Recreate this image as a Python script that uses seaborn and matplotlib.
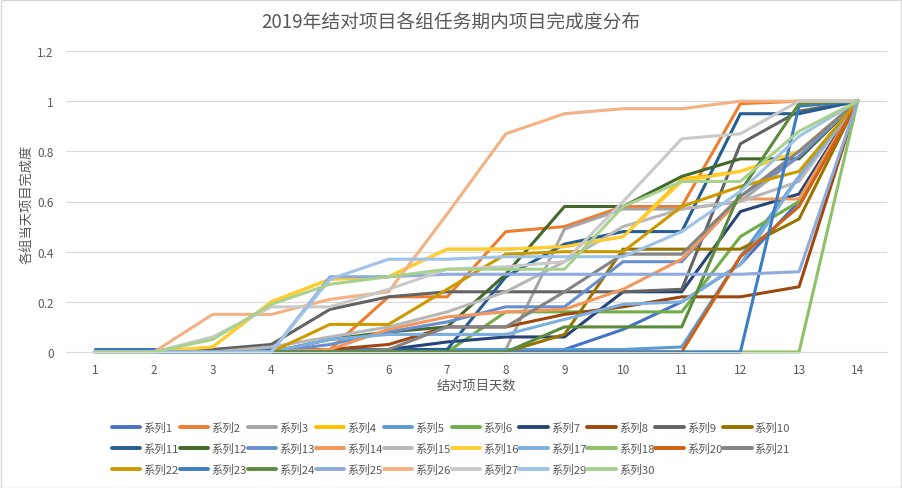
import numpy as np
import pandas as pd
import matplotlib
matplotlib.use("Agg")
import matplotlib.pyplot as plt
import seaborn as sns
from matplotlib.lines import Line2D
from matplotlib.patches import Rectangle

days = list(range(1, 15))

s1 = [0.01, 0.01, 0.01, 0.01, 0.01, 0.01, 0.01, 0.01, 0.01, 0.09, 0.20, 0.35, 0.60, 1]
s2 = [0, 0, 0, 0, 0.01, 0.22, 0.22, 0.48, 0.50, 0.58, 0.58, 0.99, 1, 1]
s3 = [0, 0, 0, 0, 0, 0, 0, 0.01, 0.49, 0.57, 0.57, 0.60, 0.78, 1]
s4 = [0, 0, 0.02, 0.20, 0.29, 0.30, 0.41, 0.41, 0.42, 0.46, 0.69, 0.72, 0.80, 1]
s5 = [0, 0, 0, 0, 0, 0.01, 0.01, 0.01, 0.01, 0.01, 0.02, 0.38, 0.70, 1]
s6 = [0, 0, 0, 0, 0, 0, 0, 0.16, 0.16, 0.16, 0.16, 0.46, 0.60, 1]
s7 = [0, 0, 0, 0, 0, 0.01, 0.04, 0.06, 0.06, 0.24, 0.24, 0.56, 0.63, 1]
s8 = [0, 0, 0, 0, 0.01, 0.03, 0.10, 0.10, 0.15, 0.18, 0.22, 0.22, 0.26, 1]
s9 = [0, 0, 0.01, 0.03, 0.17, 0.22, 0.24, 0.24, 0.24, 0.24, 0.25, 0.83, 0.96, 1]
s10 = [0, 0, 0, 0, 0, 0, 0, 0, 0.07, 0.41, 0.41, 0.41, 0.53, 1]
s11 = [0, 0, 0, 0, 0, 0.01, 0.01, 0.30, 0.43, 0.48, 0.48, 0.95, 0.95, 1]
s12 = [0, 0, 0, 0, 0.05, 0.08, 0.10, 0.31, 0.58, 0.58, 0.70, 0.77, 0.77, 1]
s13 = [0, 0, 0, 0, 0.03, 0.08, 0.12, 0.18, 0.18, 0.36, 0.36, 0.62, 0.78, 1]
s14 = [0, 0, 0, 0, 0.01, 0.09, 0.14, 0.16, 0.17, 0.25, 0.37, 0.61, 0.61, 1]
s15 = [0, 0, 0, 0.02, 0.06, 0.10, 0.16, 0.24, 0.36, 0.50, 0.57, 0.60, 0.68, 1]
s16 = [0, 0, 0.02, 0.20, 0.29, 0.30, 0.41, 0.41, 0.42, 0.46, 0.68, 0.72, 0.80, 1]
s17 = [0, 0, 0, 0, 0.05, 0.07, 0.07, 0.07, 0.13, 0.19, 0.20, 0.35, 0.70, 1]
s18 = [0, 0, 0, 0, 0, 0, 0, 0, 0, 0, 0, 0, 0, 1]
s20 = [0, 0, 0, 0, 0, 0, 0, 0, 0, 0, 0, 0.38, 0.58, 1]
s21 = [0, 0, 0, 0, 0, 0.01, 0.10, 0.10, 0.24, 0.39, 0.39, 0.62, 0.80, 1]
s22 = [0, 0, 0, 0, 0.11, 0.11, 0.25, 0.39, 0.40, 0.40, 0.58, 0.66, 0.72, 1]
s23 = [0, 0, 0, 0, 0, 0, 0, 0, 0, 0, 0, 0, 0.98, 1]
s24 = [0, 0, 0, 0, 0, 0, 0, 0, 0.10, 0.10, 0.10, 0.64, 0.99, 1]
s25 = [0, 0, 0, 0, 0.30, 0.30, 0.31, 0.31, 0.31, 0.31, 0.31, 0.31, 0.32, 1]
s26 = [0, 0, 0.15, 0.15, 0.21, 0.24, 0.55, 0.87, 0.95, 0.97, 0.97, 1, 1, 1]
s27 = [0, 0, 0.06, 0.18, 0.18, 0.25, 0.33, 0.34, 0.36, 0.60, 0.85, 0.87, 1, 1]
s29 = [0, 0, 0, 0, 0.29, 0.37, 0.37, 0.38, 0.38, 0.38, 0.48, 0.64, 0.86, 1]
s30 = [0, 0, 0.05, 0.19, 0.27, 0.30, 0.33, 0.33, 0.33, 0.58, 0.68, 0.68, 0.88, 1]

names = ["系列1", "系列2", "系列3", "系列4", "系列5", "系列6", "系列7", "系列8", "系列9", "系列10",
         "系列11", "系列12", "系列13", "系列14", "系列15", "系列16", "系列17", "系列18", "系列20", "系列21",
         "系列22", "系列23", "系列24", "系列25", "系列26", "系列27", "系列29", "系列30"]
values = [s1, s2, s3, s4, s5, s6, s7, s8, s9, s10,
          s11, s12, s13, s14, s15, s16, s17, s18, s20, s21,
          s22, s23, s24, s25, s26, s27, s29, s30]
colors = ["#4472C4", "#ED7D31", "#A5A5A5", "#FFC000", "#5B9BD5", "#70AD47", "#264478", "#9E480E",
          "#636363", "#997300", "#255E91", "#43682B", "#698ED0", "#F1975A", "#B7B7B7", "#FFCD33",
          "#7CAFDD", "#8CC168", "#D26012", "#848484", "#CC9A00", "#3B7EC2", "#5B8C3A", "#8FAADC",
          "#F4B183", "#C9C9C9", "#9DC3E6", "#A9D18E"]

sns.set_theme(style="white")
plt.rcParams["font.family"] = ["Noto Sans CJK SC", "DejaVu Sans"]

text_color = "#595959"
grid_color = "#D9D9D9"

fig = plt.figure(figsize=(9.02, 4.89), dpi=100)
ax = fig.add_axes([66 / 902, 1 - 353 / 489, (887 - 66) / 902, (353 - 52) / 489])

df = pd.DataFrame({
    "天数": np.tile(days, len(names)),
    "完成度": np.concatenate([np.asarray(v, dtype=float) for v in values]),
    "系列": np.repeat(names, len(days)),
})

sns.lineplot(data=df, x="天数", y="完成度", hue="系列", hue_order=names,
             palette=dict(zip(names, colors)), linewidth=2.2, legend=False,
             estimator=None, sort=False, ax=ax)
for ln in ax.lines:
    ln.set_clip_on(False)
    ln.set_solid_joinstyle("round")
    ln.set_solid_capstyle("round")

ax.set_xlim(0.5, 14.5)
ax.set_ylim(0, 1.2)
ax.set_xticks(days)
ax.set_xticklabels([str(d) for d in days])
yt = [0, 0.2, 0.4, 0.6, 0.8, 1.0, 1.2]
ax.set_yticks(yt)
ax.set_yticklabels(["0", "0.2", "0.4", "0.6", "0.8", "1", "1.2"])
ax.grid(axis="y", color=grid_color, linewidth=0.8)
ax.grid(axis="x", visible=False)
ax.set_axisbelow(True)
for sp in ["top", "right", "left"]:
    ax.spines[sp].set_visible(False)
ax.spines["bottom"].set_color(grid_color)
ax.spines["bottom"].set_linewidth(0.8)
ax.tick_params(axis="both", length=0, labelsize=8.5, colors=text_color)
ax.tick_params(axis="y", pad=9)
ax.tick_params(axis="x", pad=8)
ax.set_xlabel("")
ax.set_ylabel("")

fig.text(0.5, 1 - 22 / 489, "2019年结对项目各组任务期内项目完成度分布", ha="center", va="center",
         fontsize=13.5, color=text_color)
fig.text(27 / 902, 1 - 204 / 489, "各组当天项目完成度", rotation=90, ha="center", va="center",
         fontsize=9.5, color=text_color)
fig.text(476 / 902, 1 - 386 / 489, "结对项目天数", ha="center", va="center",
         fontsize=9.5, color=text_color)

handles = [Line2D([0], [0], color=c, lw=2.8) for c in colors]
ncol, nrows = 10, 3
order = []
for c in range(ncol):
    for r in range(nrows):
        i = r * ncol + c
        if i < len(names):
            order.append(i)
leg = fig.legend([handles[i] for i in order], [names[i] for i in order], ncol=ncol,
                 loc="upper left", bbox_to_anchor=(112 / 902, 1 - 423 / 489), frameon=False,
                 fontsize=8.2, handlelength=2.5, handletextpad=0.25, columnspacing=0.1,
                 labelspacing=0.85, borderaxespad=0, borderpad=0)
for t in leg.get_texts():
    t.set_color(text_color)

fig.patches.append(Rectangle((0.0008, 0.001), 0.998, 0.997, transform=fig.transFigure,
                             fill=False, edgecolor=grid_color, linewidth=1))

fig.savefig("out.png", dpi=100)
